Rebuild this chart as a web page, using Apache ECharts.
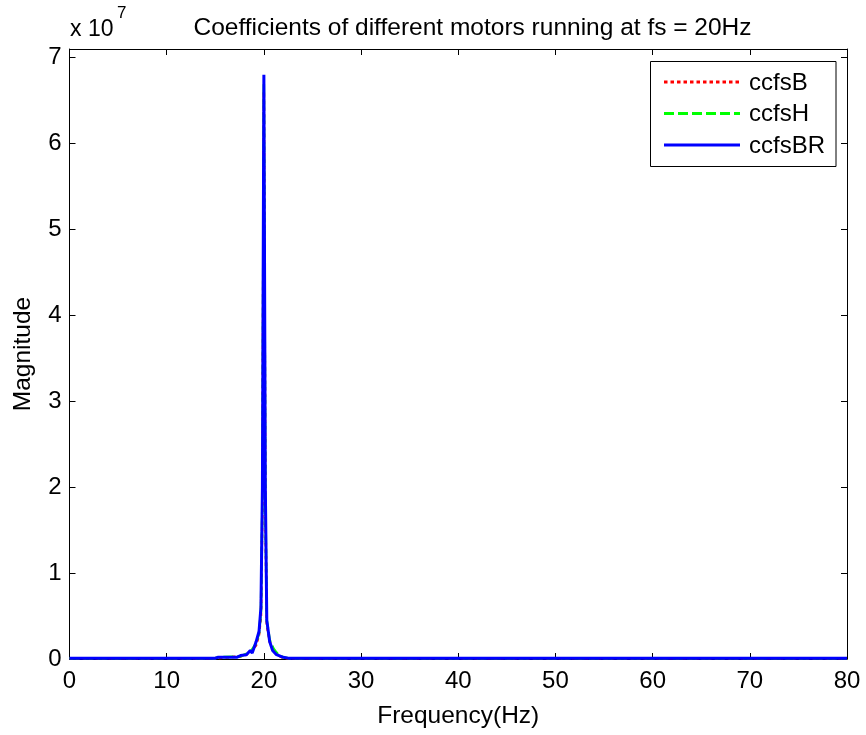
<!DOCTYPE html>
<html><head><meta charset="utf-8">
<script src="https://cdn.jsdelivr.net/npm/echarts@6/dist/echarts.min.js"></script>
<style>html,body{margin:0;padding:0;background:#fff}#c{width:866px;height:735px}</style>
</head><body><div id="c"></div>
<script>
// Frequency (Hz) and magnitude (x 1e7)
const freqBR = [0, 15.0, 15.3, 17.2, 17.6, 18.2, 18.6, 18.8, 19.2, 19.5, 19.7, 19.85, 20.0, 20.15, 20.3, 20.6, 20.9, 21.1, 21.3, 22.0, 22.5, 80];
const magBR  = [0.01, 0.01, 0.02, 0.02, 0.04, 0.05, 0.1, 0.07, 0.2, 0.32, 0.6, 2.0, 6.8, 2.0, 0.45, 0.2, 0.1, 0.11, 0.05, 0.02, 0.01, 0.01];
const freqH = [0, 15.0, 15.3, 17.6, 18.6, 19.2, 19.5, 19.7, 19.85, 20.0, 20.15, 20.3, 20.6, 21.0, 21.2, 21.5, 22.0, 22.5, 80];
const magH  = [0.01, 0.01, 0.02, 0.03, 0.08, 0.18, 0.3, 0.55, 1.9, 6.7, 1.9, 0.45, 0.22, 0.12, 0.09, 0.05, 0.02, 0.01, 0.01];
const freqB = [0, 15.0, 17.6, 18.6, 19.2, 19.5, 19.7, 19.85, 20.0, 20.15, 20.3, 20.6, 21.0, 21.5, 22.0, 80];
const magB  = [0.01, 0.01, 0.03, 0.07, 0.16, 0.28, 0.5, 1.8, 6.6, 1.8, 0.4, 0.2, 0.1, 0.04, 0.01, 0.01];
const seriesNames = ['ccfsB', 'ccfsH', 'ccfsBR'];
const xTicks = [0, 10, 20, 30, 40, 50, 60, 70, 80];
const yTicks = [0, 1, 2, 3, 4, 5, 6, 7];

const zip = (a, b) => a.map((v, i) => [v, b[i]]);
const FONT = 'Liberation Sans, Arial, sans-serif';
const chart = echarts.init(document.getElementById('c'), null, {renderer: 'canvas'});
const axCommon = {
  axisLine: {show: true, onZero: false, lineStyle: {color: '#000', width: 1}},
  axisTick: {show: true, inside: true, length: 6, lineStyle: {color: '#000'}},
  splitLine: {show: false}
};
const colors = ['#ff0000', '#00ff00', '#0000ff'];
const dashes = [[3.5, 3], [10, 4], null];
const widths = [2.5, 2.5, 3];
const legendRows = [82, 113.5, 145];
const legendGraphics = [{
  type: 'rect', shape: {x: 650.5, y: 61.5, width: 185.5, height: 105},
  style: {fill: '#fff', stroke: '#000', lineWidth: 1}, z: 100
}];
seriesNames.forEach((n, i) => {
  legendGraphics.push({
    type: 'line', shape: {x1: 664, y1: legendRows[i], x2: 740, y2: legendRows[i]},
    style: {stroke: colors[i], lineWidth: 3, lineDash: dashes[i] || null}, z: 101
  });
  legendGraphics.push({
    type: 'text', x: 749, y: legendRows[i] + 1,
    style: {text: n, fontFamily: FONT, fontSize: 24, fill: '#000', verticalAlign: 'middle', align: 'left'}, z: 101
  });
});
chart.setOption({
  animation: false,
  backgroundColor: '#fff',
  title: {
    text: 'Coefficients of different motors running at fs = 20Hz',
    left: 467.5, top: 11, textAlign: 'center',
    textStyle: {fontFamily: FONT, fontSize: 24.5, fontWeight: 'normal', color: '#000'}
  },
  grid: {left: 69.5, right: 19, top: 49, bottom: 76},
  xAxis: [
    Object.assign({}, axCommon, {
      type: 'value', min: xTicks[0], max: xTicks[xTicks.length - 1], interval: 10,
      name: 'Frequency(Hz)', nameLocation: 'middle', nameGap: 45,
      nameTextStyle: {fontFamily: FONT, fontSize: 24.5, color: '#000'},
      axisLabel: {fontFamily: FONT, fontSize: 24, color: '#000', margin: 10}
    }),
    Object.assign({}, axCommon, {
      type: 'value', position: 'top', min: xTicks[0], max: xTicks[xTicks.length - 1], interval: 10,
      axisLabel: {show: false}
    })
  ],
  yAxis: [
    Object.assign({}, axCommon, {
      type: 'value', min: yTicks[0], max: 7.1, interval: 1,
      name: 'Magnitude', nameLocation: 'middle', nameGap: 34, nameRotate: 90,
      nameTextStyle: {fontFamily: FONT, fontSize: 24.5, color: '#000'},
      axisLabel: {fontFamily: FONT, fontSize: 24, color: '#000', margin: 8,
        formatter: v => (yTicks.indexOf(v) >= 0 ? String(v) : '')}
    }),
    Object.assign({}, axCommon, {
      type: 'value', position: 'right', min: yTicks[0], max: 7.1, interval: 1,
      axisLabel: {show: false}
    })
  ],
  graphic: [{
    type: 'text', x: 70, y: 18,
    style: {text: 'x 10', fontFamily: FONT, fontSize: 23, fill: '#000', align: 'left'}
  }, {
    type: 'text', x: 117, y: 5,
    style: {text: '7', fontFamily: FONT, fontSize: 17, fill: '#000', align: 'left'}
  }].concat(legendGraphics),
  series: seriesNames.map((n, i) => ({
    name: n, type: 'line',
    data: [zip(freqB, magB), zip(freqH, magH), zip(freqBR, magBR)][i],
    showSymbol: false, symbol: 'none', z: i + 1,
    lineStyle: {color: colors[i], width: widths[i], type: dashes[i] || 'solid'},
    itemStyle: {color: colors[i]}
  }))
});
</script></body></html>
